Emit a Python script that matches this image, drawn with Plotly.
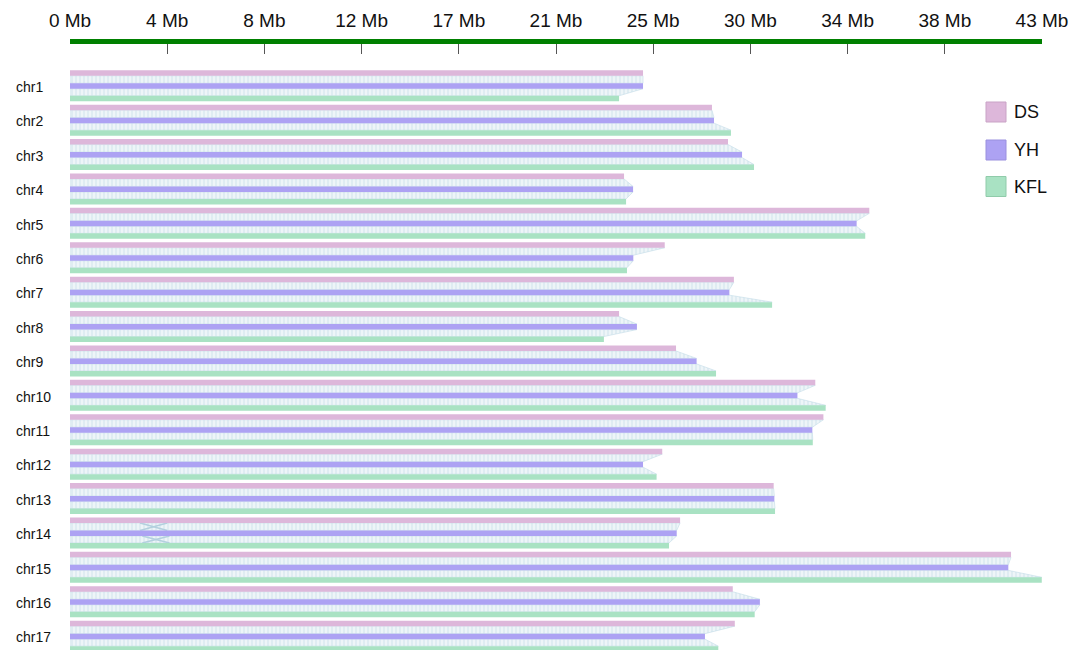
import plotly.graph_objects as go

# ---------------- data ----------------
chroms = ["chr1", "chr2", "chr3", "chr4", "chr5", "chr6", "chr7", "chr8", "chr9",
          "chr10", "chr11", "chr12", "chr13", "chr14", "chr15", "chr16", "chr17"]
ds_len = [25.35, 28.40, 29.11, 24.51, 35.36, 26.31, 29.37, 24.29, 26.81,
          32.97, 33.33, 26.20, 31.13, 26.99, 41.63, 29.32, 29.41]
yh_len = [25.35, 28.49, 29.73, 24.91, 34.80, 24.92, 29.17, 25.08, 27.72,
          32.18, 32.84, 25.35, 31.16, 26.84, 41.51, 30.52, 28.09]
kfl_len = [24.29, 29.24, 30.26, 24.60, 35.18, 24.64, 31.06, 23.62, 28.58,
           33.43, 32.86, 25.95, 31.19, 26.50, 42.99, 30.29, 28.68]
genomes = ["DS", "YH", "KFL"]
axis_max = 43.0
tick_labels = ["0 Mb", "4 Mb", "8 Mb", "12 Mb", "17 Mb", "21 Mb", "25 Mb",
               "30 Mb", "34 Mb", "38 Mb", "43 Mb"]
# inverted synteny blocks: (chrom, pair, start_a, end_a, start_b, end_b) in Mb
inversions = [("chr14", "DS-YH", 3.1, 4.3, 4.3, 3.1),
              ("chr14", "YH-KFL", 3.2, 4.4, 4.4, 3.2)]

# ---------------- styling ----------------
colors = {"DS": "#DDB7DA", "YH": "#ADA2F3", "KFL": "#A9E2C3"}
borders = {"DS": "#C9A3C6", "YH": "#9A90DE", "KFL": "#90CBAA"}
link_fg = "#C3DCE8"
link_bg = "#EEF5F8"
W, H = 1084, 650
ML, MR, MT = 70, 42, 44
row0, row_gap = 86.0, 34.4
off = {"DS": -13.0, "YH": 0.0, "KFL": 12.5}
bar_w = 5.5
FONT = "Liberation Sans, Arial, sans-serif"

lens = {"DS": ds_len, "YH": yh_len, "KFL": kfl_len}


def ypos(i, g):
    return row0 + i * row_gap + off[g]


fig = go.Figure()

# synteny bands
for (ga, gb) in [("DS", "YH"), ("YH", "KFL")]:
    xs, ys = [], []
    for i in range(len(chroms)):
        ya = ypos(i, ga) + bar_w / 2
        yb = ypos(i, gb) - bar_w / 2
        xs += [0, lens[ga][i], lens[gb][i], 0, 0, None]
        ys += [ya, ya, yb, yb, ya, None]
    fig.add_trace(go.Scatter(
        x=xs, y=ys, mode="lines", fill="toself",
        line=dict(width=0.6, color=link_fg),
        fillcolor=link_bg,
        fillpattern=dict(shape="|", fgcolor=link_fg, bgcolor=link_bg,
                         size=4, solidity=0.35),
        hoverinfo="skip", showlegend=False))

# inversions (crossing links)
for (c, pair, a0, a1, b0, b1) in inversions:
    i = chroms.index(c)
    ga, gb = pair.split("-")
    ya = ypos(i, ga) + bar_w / 2
    yb = ypos(i, gb) - bar_w / 2
    fig.add_trace(go.Scatter(
        x=[a0, b0, None, a1, b1], y=[ya, yb, None, ya, yb],
        mode="lines", line=dict(width=1.5, color="#B3D0DE"),
        hoverinfo="skip", showlegend=False))

# chromosome bars
for g in genomes:
    xs, ys = [], []
    for i in range(len(chroms)):
        y = ypos(i, g)
        xs += [0, lens[g][i], None]
        ys += [y, y, None]
    fig.add_trace(go.Scatter(x=xs, y=ys, mode="lines", name=g,
                             line=dict(width=bar_w, color=colors[g]),
                             hoverinfo="skip", showlegend=False))

annotations = []
shapes = []
PW = W - ML - MR
# chromosome labels
for i, c in enumerate(chroms):
    annotations.append(dict(x=(14 - ML) / PW, xref="paper",
                            y=ypos(i, "YH") + 1, yref="y", text=c,
                            showarrow=False, xanchor="left", yanchor="middle",
                            font=dict(size=14, color="#111", family=FONT)))

# legend
leg_y = [112, 150, 186.5]
for g, yc in zip(genomes, leg_y):
    shapes.append(dict(type="rect", xref="paper", yref="y",
                       x0=(986 - ML) / PW, x1=(1006 - ML) / PW,
                       y0=yc - 10, y1=yc + 10,
                       fillcolor=colors[g], line=dict(color=borders[g], width=1)))
    annotations.append(dict(x=(1012 - ML) / PW, xref="paper",
                            y=yc, yref="y", text=g, showarrow=False,
                            xanchor="left", yanchor="middle",
                            font=dict(size=18, color="#111", family=FONT)))

tickvals = [axis_max * k / (len(tick_labels) - 1) for k in range(len(tick_labels))]

fig.update_layout(
    width=W, height=H,
    margin=dict(l=ML, r=MR, t=MT, b=0, pad=0),
    paper_bgcolor="white", plot_bgcolor="white",
    shapes=shapes, annotations=annotations,
    hovermode=False,
    xaxis=dict(side="top", range=[0, axis_max], showline=True,
               linecolor="#008000", linewidth=5, ticks="inside",
               ticklen=10, tickwidth=1, tickcolor="#555555",
               tickvals=tickvals, ticktext=tick_labels,
               tickfont=dict(size=19, color="#111", family=FONT),
               ticklabelstandoff=4,
               showgrid=False, zeroline=False, fixedrange=True),
    yaxis=dict(range=[H, MT], visible=False, showgrid=False,
               zeroline=False, fixedrange=True),
)

fig.write_html("out.html", config={"displayModeBar": False},
               post_script="document.body.style.margin='0px';"
                           "document.body.style.overflow='hidden';")
